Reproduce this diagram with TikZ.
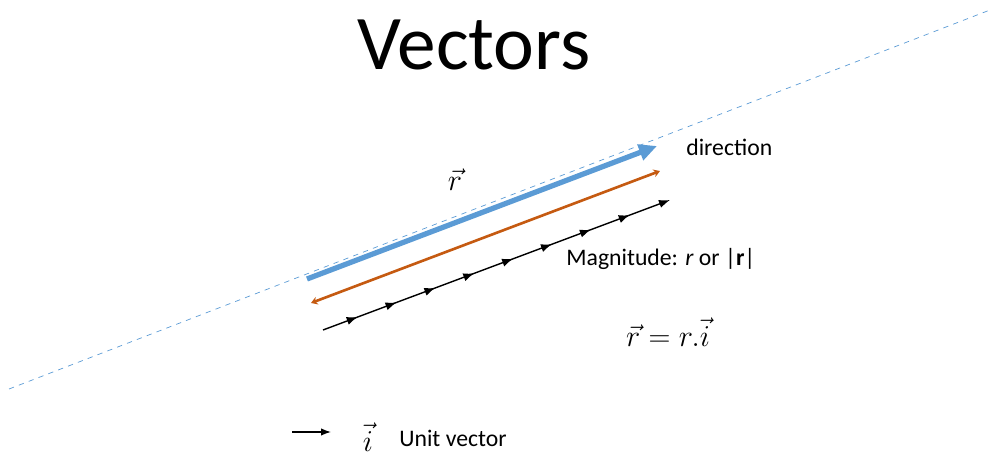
\documentclass[tikz,border=0pt]{standalone}
\usepackage{fontspec}
\setmainfont{Carlito}
\usetikzlibrary{positioning, arrows.meta, decorations.markings}
\definecolor{vecblue}{RGB}{91,155,213}
\definecolor{vecorange}{RGB}{197,90,17}

\begin{document}
\begin{tikzpicture}[
    label/.style={font=\fontsize{13.5}{16}\selectfont, inner sep=0pt},
    mathlabel/.style={font=\LARGE, inner sep=0pt},
    unitmarks/.style={postaction={decorate}, decoration={markings,
        mark=between positions 0.1 and 0.9 step 0.112 with {\arrow{Latex[length=2.2mm]}}}}
]
\useasboundingbox (0,0) rectangle (19.94,9.12);

\node (title) at (9.48,7.72) [anchor=base, inner sep=0pt, font=\fontsize{44}{50}\selectfont] {Vectors};

% line of action
\coordinate (lineA) at (0.18,1.34);
\coordinate (lineB) at (19.8,8.92);
\draw[vecblue, dashed, thin] (lineA) -- (lineB);

% direction, magnitude, unit steps
\coordinate (blueA) at (6.14,3.54);
\coordinate (blueB) at (13.14,6.2);
\coordinate (orangeA) at (6.22,3.06);
\coordinate (orangeB) at (13.2,5.7);
\coordinate (blackA) at (6.46,2.52);
\coordinate (blackB) at (13.4,5.12);

\draw[vecblue, line width=3pt, -{Triangle[length=3.6mm, width=3.2mm]}] (blueA) -- (blueB);
\draw[vecorange, line width=1.5pt, {Stealth[length=1.3mm, width=1.6mm]}-{Stealth[length=1.3mm, width=1.6mm]}] (orangeA) -- (orangeB);
\draw[black, thick, unitmarks, -{Latex[length=2.2mm]}] (blackA) -- (blackB);

\node (rvec) at (9.1,5.52) [mathlabel] {$\vec{r}$};
\node (direction) at (13.72,6.18) [label, anchor=west] {direction};
\node (magnitude) at (11.32,3.94) [label, anchor=west] {Magnitude: \textit{r} or |\textbf{r}|};
\node (relation) at (13.36,2.48) [mathlabel] {$\vec{r} = r.\vec{i}$};

% legend
\coordinate (unitA) at (5.84,0.48);
\coordinate (unitB) at (6.62,0.48);
\draw[thick, -{Latex[length=2mm]}] (unitA) -- (unitB);
\node (ivec) at (7.36,0.38) [mathlabel] {$\vec{i}$};
\node (unitvec) at (7.98,0.36) [label, anchor=west] {Unit vector};
\end{tikzpicture}
\end{document}
